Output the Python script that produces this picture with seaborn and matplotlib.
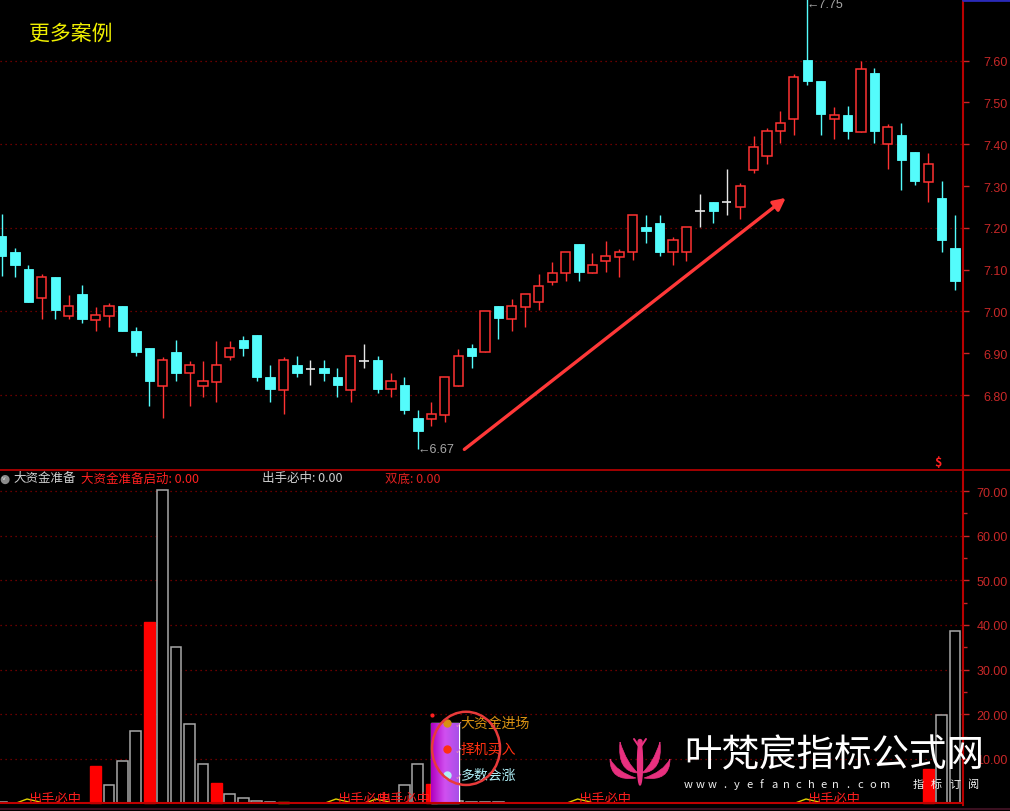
import numpy as np
import pandas as pd
import matplotlib.pyplot as plt
from matplotlib.patches import Ellipse, PathPatch
from matplotlib.path import Path
from matplotlib.lines import Line2D
from matplotlib.colors import LinearSegmentedColormap
import seaborn as sns

# daily K-line data, 72 sessions
days = list(range(72))
opens = [7.181, 7.142, 7.102, 7.032, 7.082, 6.990, 7.042, 6.980, 6.990, 7.012,
         6.953, 6.913, 6.822, 6.904, 6.852, 6.822, 6.832, 6.892, 6.933, 6.943,
         6.843, 6.812, 6.873, 6.862, 6.864, 6.843, 6.812, 6.882, 6.883, 6.815,
         6.824, 6.745, 6.743, 6.752, 6.822, 6.913, 6.902, 7.012, 6.981, 7.011,
         7.022, 7.071, 7.091, 7.161, 7.091, 7.121, 7.130, 7.142, 7.201, 7.211,
         7.142, 7.142, 7.240, 7.261, 7.261, 7.249, 7.339, 7.371, 7.431, 7.461,
         7.602, 7.551, 7.461, 7.471, 7.430, 7.571, 7.401, 7.422, 7.382, 7.309,
         7.271, 7.151]
highs = [7.233, 7.151, 7.111, 7.090, 7.082, 7.039, 7.063, 7.010, 7.020, 7.012,
         6.964, 6.913, 6.890, 6.933, 6.881, 6.881, 6.930, 6.930, 6.942, 6.943,
         6.873, 6.890, 6.894, 6.883, 6.883, 6.864, 6.894, 6.923, 6.894, 6.852,
         6.843, 6.764, 6.783, 6.844, 6.910, 6.923, 7.002, 7.014, 7.030, 7.042,
         7.090, 7.118, 7.142, 7.161, 7.140, 7.169, 7.150, 7.231, 7.231, 7.231,
         7.178, 7.201, 7.281, 7.261, 7.341, 7.307, 7.421, 7.438, 7.479, 7.567,
         7.750, 7.551, 7.490, 7.492, 7.599, 7.582, 7.449, 7.451, 7.382, 7.379,
         7.311, 7.231]
lows = [7.084, 7.083, 7.023, 6.982, 6.982, 6.982, 6.972, 6.954, 6.962, 6.953,
        6.894, 6.775, 6.745, 6.834, 6.775, 6.795, 6.784, 6.885, 6.894, 6.834,
        6.784, 6.755, 6.844, 6.824, 6.834, 6.795, 6.784, 6.864, 6.805, 6.795,
        6.755, 6.670, 6.725, 6.735, 6.822, 6.864, 6.902, 6.934, 6.954, 6.964,
        7.004, 7.063, 7.074, 7.074, 7.091, 7.094, 7.083, 7.123, 7.163, 7.132,
        7.112, 7.122, 7.201, 7.212, 7.231, 7.221, 7.331, 7.353, 7.403, 7.423,
        7.542, 7.422, 7.413, 7.413, 7.430, 7.403, 7.341, 7.291, 7.303, 7.261,
        7.142, 7.052]
closes = [7.132, 7.112, 7.023, 7.082, 7.004, 7.012, 6.982, 6.992, 7.012, 6.953,
          6.904, 6.834, 6.883, 6.854, 6.873, 6.833, 6.873, 6.912, 6.913, 6.844,
          6.815, 6.883, 6.853, 6.862, 6.854, 6.824, 6.893, 6.882, 6.815, 6.833,
          6.764, 6.715, 6.755, 6.843, 6.894, 6.894, 7.002, 6.984, 7.012, 7.042,
          7.062, 7.091, 7.142, 7.094, 7.111, 7.132, 7.142, 7.231, 7.192, 7.143,
          7.171, 7.201, 7.240, 7.241, 7.261, 7.300, 7.393, 7.431, 7.452, 7.560,
          7.552, 7.472, 7.471, 7.433, 7.580, 7.433, 7.441, 7.363, 7.311, 7.352,
          7.172, 7.072]
price_ticks = [6.8, 6.9, 7.0, 7.1, 7.2, 7.3, 7.4, 7.5, 7.6]
price_grid = [6.8, 7.0, 7.2, 7.4, 7.6]

# 大资金准备 indicator
fund_vals = [0.3, 0, 0, 0, 0, 0, 0, 8.5, 4.2, 9.6,
             16.3, 40.7, 70.2, 35.1, 17.7, 8.8, 4.5, 2.1, 1.2, 0.5,
             0.3, 0.3, 0, 0, 0, 0, 0, 0, 0, 0,
             4.1, 8.8, 4.4, 0, 0.6, 0.4, 0.4, 0.4, 0, 0,
             0, 0, 0, 0, 0, 0, 0, 0, 0, 0,
             0, 0, 0, 0, 0, 0, 0, 0, 0, 0,
             0, 0, 0, 0, 0, 0, 0, 0, 0, 7.7,
             19.8, 38.6]
red_days = [7, 11, 16, 32, 69]
orange_days = [21]
entry_day = 33
entry_val = 18.0
shot_days = [2, 25, 28, 43, 60]
shot_line = [0.1, 1.0, 0.3]
fund_ticks = [10, 20, 30, 40, 50, 60, 70]
marks = ['大资金进场', '择机买入', '多数会涨']
mark_vals = [18.0, 12.2, 6.4]
mark_colors = ['#d89012', '#ff3010', '#b0f0f8']

CYAN = '#54fcfc'
RED = '#ff3232'
AXRED = '#c82828'
GRID = '#8c0000'

sns.set_theme(style='dark', rc={'axes.facecolor': 'black', 'figure.facecolor': 'black'})
plt.rcParams['font.family'] = ['Noto Sans CJK SC', 'DejaVu Sans']


def fx(px):
    return px / 1010


def fy(py):
    return 1 - py / 812


fig = plt.figure(figsize=(10.1, 8.12), dpi=100)
ax1 = fig.add_axes([0, fy(470), fx(963), 470 / 812])
ax2 = fig.add_axes([0, fy(806), fx(963), 336 / 812])

# ---- candles
for g in price_grid:
    ax1.axhline(g, color=GRID, lw=0.9, ls=(0, (1, 3)), zorder=0.5)
for d, o, h, l, c in zip(days, opens, highs, lows, closes):
    if abs(c - o) < 0.001:
        ax1.vlines(d, l, h, color='#e6e6e6', lw=1, zorder=2)
        ax1.hlines(o, d - 0.35, d + 0.35, color='#e6e6e6', lw=1.2, zorder=2)
    elif c > o:
        ax1.vlines(d, l, h, color=RED, lw=1, zorder=2)
        ax1.bar(d, max(c - o, 0.003), bottom=o, width=0.68, facecolor='black',
                edgecolor=RED, lw=1.1, zorder=3)
    else:
        ax1.vlines(d, l, h, color=CYAN, lw=1, zorder=2)
        ax1.bar(d, max(o - c, 0.003), bottom=c, width=0.7, facecolor=CYAN,
                edgecolor=CYAN, lw=0.6, zorder=3)

lo_i = int(np.argmin(lows))
hi_i = int(np.argmax(highs))
ax1.text(lo_i - 0.05, lows[lo_i], '←' + f'{lows[lo_i]:.2f}', color='#a8a8a8', fontsize=9,
         va='center', ha='left', family=['Liberation Sans', 'DejaVu Sans'])
ax1.text(hi_i - 0.05, highs[hi_i] - 0.014, '←' + f'{highs[hi_i]:.2f}', color='#a8a8a8',
         fontsize=9, va='center', ha='left', family=['Liberation Sans', 'DejaVu Sans'])
ax1.annotate('', xy=(58.56, 7.276), xytext=(34.3, 6.666),
             arrowprops=dict(arrowstyle='-|>', color='#ff3838', lw=2.4, mutation_scale=18))
ax1.text(69.7, 6.640, r'\$', color='#ff2020', fontsize=9, fontweight='bold', ha='center', va='center')
ax1.text(fx(30), 0.929, '更多案例', transform=ax1.transAxes, color='#f0f000', fontsize=15,
         ha='left', va='center')

ax1.set_xlim(-0.112, 71.594)
ax1.set_ylim(6.6232, 7.7476)
ax1.set_yticks(price_ticks)
ax1.set_yticklabels([f'{t:.2f}' for t in price_ticks])

# ---- lower indicator
bar_days = [d for d in days if fund_vals[d] > 0]
df = pd.DataFrame({'day': bar_days, 'val': [fund_vals[d] for d in bar_days]})
for t in fund_ticks:
    ax2.axhline(t, color=GRID, lw=0.9, ls=(0, (1, 3)), zorder=0.5)
sns.barplot(data=df, x='day', y='val', native_scale=True, width=0.8, color='#a0a0a0',
            errorbar=None, ax=ax2, zorder=3)
for p in ax2.patches:
    d = int(round(p.get_x() + p.get_width() / 2))
    if d in red_days:
        p.set_facecolor('#ff0000')
        p.set_edgecolor('#ff0000')
    elif d in orange_days:
        p.set_facecolor('#e8a000')
        p.set_edgecolor('#e8a000')
    else:
        p.set_facecolor('black')
        p.set_edgecolor('#a8a8a8')
        p.set_linewidth(1.1)

# purple entry bar with gradient
pb = ax2.bar([entry_day], [entry_val], width=2.08, color='#b030d8', zorder=4)[0]
cmap = LinearSegmentedColormap.from_list('pp', ['#b000c0', '#d050f0', '#a850e8'])
im = ax2.imshow(np.linspace(0, 1, 64).reshape(1, -1), extent=[entry_day - 1.04, entry_day + 1.04, 0, entry_val],
                aspect='auto', cmap=cmap, zorder=4.5)
im.set_clip_path(pb)
ax2.plot([32.06], [19.8], 'o', color='#ff2020', ms=2, zorder=5)
for lab, v, col in zip(marks, mark_vals, mark_colors):
    ax2.plot([33.17], [v], 'o', color=col, ms=5, zorder=6)
    ax2.text(33.7, v - 0.3, '✓', color='#e080c0', fontsize=7, ha='left', va='center',
             family='DejaVu Sans', zorder=6)
    ax2.text(34.2, v, lab, color=col, fontsize=10, ha='left', va='center', zorder=6)
ax2.add_patch(Ellipse((34.59, 12.35), 5.06, 16.4, fill=False, edgecolor='#e83a3a', lw=1.8, zorder=6))

for d in shot_days:
    ax2.plot([d - 0.9, d - 0.1, d + 0.9], shot_line, color='#e0d000', lw=1, zorder=5)
    ax2.text(d, 1.1, '出手必中', color='#ff1e1e', fontsize=9.5, ha='left', va='center', zorder=6)
ax2.axhline(0, color='#c00000', lw=1.5, zorder=6)

ax2.set_xlim(-0.112, 71.594)
ax2.set_ylim(-0.34, 74.93)
ax2.set_yticks(fund_ticks)
ax2.set_yticklabels([f'{t:.2f}' for t in fund_ticks])
ax2.set_yticks([15, 25, 35, 45, 55, 65], minor=True)
ax2.set_xlabel('')
ax2.set_ylabel('')

for ax in (ax1, ax2):
    ax.set_facecolor('black')
    ax.grid(False)
    ax.set_xticks([])
    ax.yaxis.tick_right()
    ax.tick_params(axis='y', which='both', colors=AXRED, length=4, width=1, pad=28.2, labelsize=9,
                   labelcolor=AXRED, right=True, left=False)
    ax.tick_params(axis='y', which='minor', length=3)
    for lab in ax.get_yticklabels():
        lab.set_family(['Liberation Sans', 'DejaVu Sans'])
        lab.set_horizontalalignment('right')
    for s in ['top', 'left', 'bottom']:
        ax.spines[s].set_visible(False)
    ax.spines['right'].set_color('#b80000')
    ax.spines['right'].set_linewidth(1.5)

# header of the lower panel
fig.text(fx(-1), fy(479), '●', color='#8c8c8c', fontsize=8.5, va='center', ha='left', family='DejaVu Sans')
fig.text(fx(1.8), fy(478.5), 'v', color='#e0e0e0', fontsize=4.5, va='center', ha='left', family='DejaVu Sans')
fig.text(fx(13), fy(479), '大资金准备', color='#d0d0d0', fontsize=9, va='center')
fig.text(fx(81), fy(479), '大资金准备启动: 0.00', color='#ff2020', fontsize=9, va='center')
fig.text(fx(262), fy(479), '出手必中: 0.00', color='#d0d0d0', fontsize=9, va='center')
fig.text(fx(385), fy(479), '双底: 0.00', color='#e02020', fontsize=9, va='center')

# frame lines
fig.add_artist(Line2D([0, 1], [fy(470.5)] * 2, color='#b00000', lw=1.3))
fig.add_artist(Line2D([fx(963), 1], [fy(1)] * 2, color='#2a2ab8', lw=2))
fig.add_artist(Line2D([0, 1], [fy(810)] * 2, color='#3a1020', lw=1.5))

# watermark
fig.text(fx(684), fy(756), '叶梵宸指标公式网', color='white', fontsize=27, va='center', ha='left')
for k, ch in enumerate('www.yefanchen.com'):
    fig.text(fx(688 + k * 12.3), fy(785), ch, color='#f0f0f0', fontsize=8, va='center', ha='center')
for k, ch in enumerate('指标订阅'):
    fig.text(fx(918 + k * 18.5), fy(785), ch, color='#f0f0f0', fontsize=8, va='center', ha='center')

lax = fig.add_axes([fx(605), fy(793), fx(75), 57 / 812])
lax.set_xlim(605, 680)
lax.set_ylim(793, 736)
lax.axis('off')
PINK = '#e8307f'
for sgn in (1, -1):
    def X(v):
        return 640 + sgn * (v - 640)
    outer = Path([(X(610), 760), (X(610), 783), (X(636), 779), (X(617), 773), (X(610), 760)],
                 [Path.MOVETO, Path.CURVE3, Path.CURVE3, Path.CURVE3, Path.CURVE3])
    inner = Path([(X(620), 743), (X(617), 773), (X(638), 774), (X(627), 765), (X(620), 743)],
                 [Path.MOVETO, Path.CURVE3, Path.CURVE3, Path.CURVE3, Path.CURVE3])
    lax.add_patch(PathPatch(outer, facecolor=PINK, edgecolor=PINK, lw=0.5))
    lax.add_patch(PathPatch(inner, facecolor=PINK, edgecolor=PINK, lw=0.5))
    lax.plot([640, X(634)], [749, 740], color=PINK, lw=1.4)
lax.add_patch(Ellipse((640, 764), 5, 44, color=PINK))
lax.add_patch(Ellipse((640, 743), 4, 5, color=PINK))

fig.savefig('out.png', dpi=100, facecolor='black')
